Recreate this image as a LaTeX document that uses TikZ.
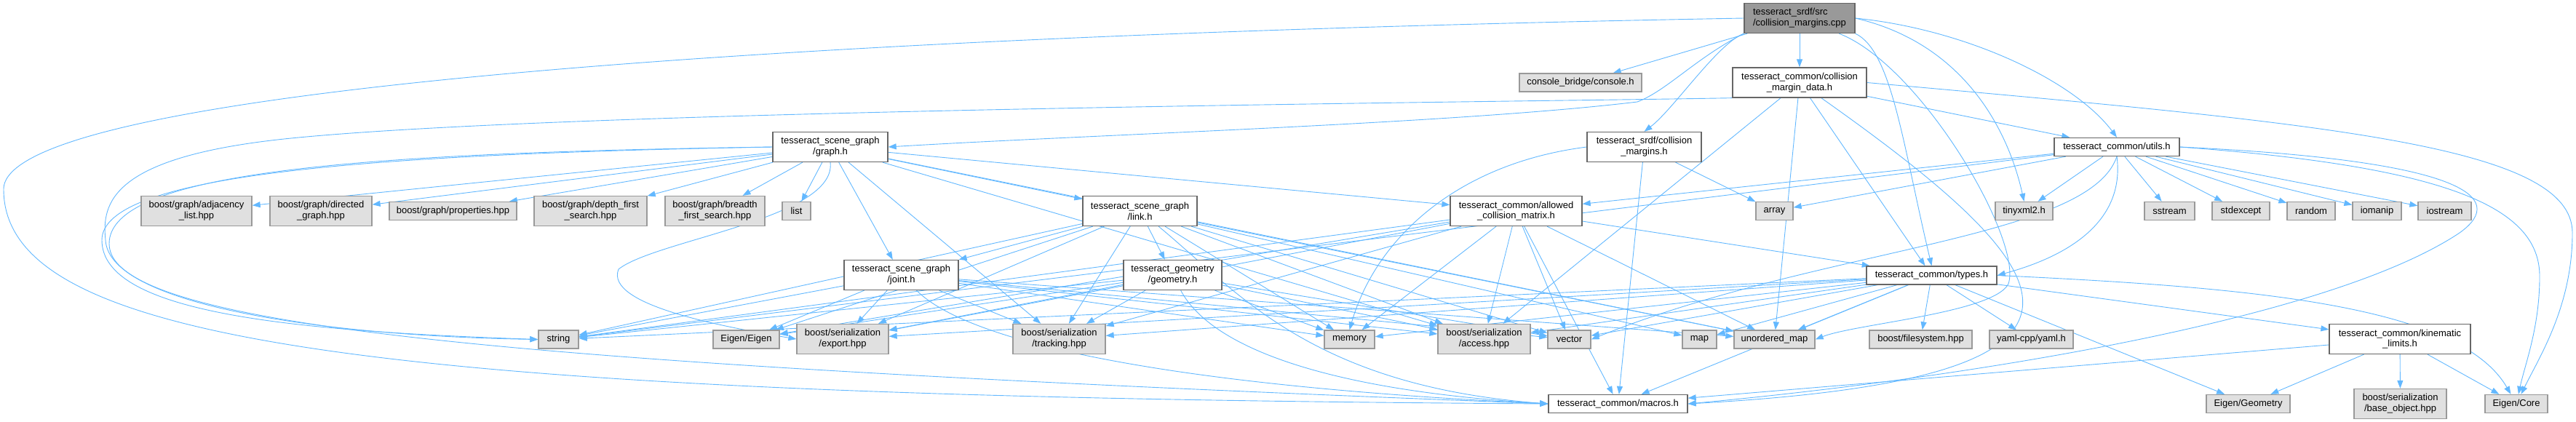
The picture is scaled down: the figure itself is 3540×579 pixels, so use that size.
\documentclass[tikz,border=0pt]{standalone}
\usepackage{fontspec}
\setmainfont{Liberation Sans}
\usetikzlibrary{arrows.meta}
\definecolor{edgeblue}{HTML}{63B8FF}
\definecolor{boxline}{HTML}{666666}
\definecolor{sysline}{HTML}{999999}
\definecolor{sysfill}{HTML}{E0E0E0}
\definecolor{rootfill}{HTML}{999999}
\pgfdeclarelayer{bg}
\pgfsetlayers{bg,main}

\begin{document}
\begin{tikzpicture}[x=1pt,y=-1pt,>={Triangle[length=11pt,width=8pt]},
  hdr/.style={draw=boxline,fill=white,line width=1.3pt,inner sep=0pt,minimum height=25pt,align=center,font=\fontsize{13}{14.8}\selectfont},
  sys/.style={hdr,draw=sysline,fill=sysfill},
  two/.style={minimum height=41pt},
  dep/.style={->,color=edgeblue,line width=0.9pt}]
  \useasboundingbox (0,0) rectangle (3540,579);
  % top rows
  \node[hdr,fill=rootfill,align=left,minimum width=152pt,two] (root) at (2473,25) {tesseract\_srdf/src\\/collision\_margins.cpp};
  \node[hdr,minimum width=184pt,two] (cmd) at (2473,113.5) {tesseract\_common/collision\\\_margin\_data.h};
  \node[sys,minimum width=168pt] (cbc) at (2172,113.5) {console\_bridge/console.h};
  \node[hdr,minimum width=158pt,two] (graphh) at (1141,202) {tesseract\_scene\_graph\\/graph.h};
  \node[hdr,minimum width=157pt,two] (srdfcm) at (2259.5,202) {tesseract\_srdf/collision\\\_margins.h};
  \node[hdr,minimum width=172pt] (utils) at (2909,202) {tesseract\_common/utils.h};
  % third row
  \node[sys,minimum width=152pt,two] (adjlist) at (270,290) {boost/graph/adjacency\\\_list.hpp};
  \node[sys,minimum width=140pt,two] (dirgraph) at (441,290) {boost/graph/directed\\\_graph.hpp};
  \node[sys,minimum width=175pt] (props) at (622.5,290) {boost/graph/properties.hpp};
  \node[sys,minimum width=155pt,two] (dfs) at (811.5,290) {boost/graph/depth\_first\\\_search.hpp};
  \node[sys,minimum width=137pt,two] (bfs) at (982.5,290) {boost/graph/breadth\\\_first\_search.hpp};
  \node[sys,minimum width=39pt] (lst) at (1094.5,290) {list};
  \node[hdr,minimum width=157pt,two] (linkh) at (1566.5,290) {tesseract\_scene\_graph\\/link.h};
  \node[hdr,minimum width=181pt,two] (acm) at (2083.5,290) {tesseract\_common/allowed\\\_collision\_matrix.h};
  \node[sys,minimum width=51pt] (array) at (2438.5,290) {array};
  \node[sys,minimum width=79pt] (tinyxml) at (2781.5,290) {tinyxml2.h};
  \node[sys,minimum width=69pt] (sstream) at (2981.5,290) {sstream};
  \node[sys,minimum width=79pt] (stdexcept) at (3079.5,290) {stdexcept};
  \node[sys,minimum width=66pt] (random) at (3176,290) {random};
  \node[sys,minimum width=67pt] (iomanip) at (3266.5,290) {iomanip};
  \node[sys,minimum width=73pt] (iostream) at (3359.5,290) {iostream};
  % fourth row
  \node[hdr,minimum width=157pt,two] (jointh) at (1238.5,378) {tesseract\_scene\_graph\\/joint.h};
  \node[hdr,minimum width=135pt,two] (geomh) at (1611.5,378) {tesseract\_geometry\\/geometry.h};
  \node[hdr,minimum width=179pt] (types) at (2654.5,378.5) {tesseract\_common/types.h};
  % fifth row
  \node[sys,minimum width=55pt] (string) at (767.5,466.5) {string};
  \node[sys,minimum width=91pt] (eigen) at (1025.5,466.5) {Eigen/Eigen};
  \node[sys,minimum width=126pt,two] (export) at (1158,466) {boost/serialization\\/export.hpp};
  \node[sys,minimum width=127pt,two] (tracking) at (1455.5,466) {boost/serialization\\/tracking.hpp};
  \node[sys,minimum width=69pt] (memory) at (1854.5,466.5) {memory};
  \node[sys,minimum width=127pt,two] (access) at (2039.5,466) {boost/serialization\\/access.hpp};
  \node[sys,minimum width=59pt] (vector) at (2156.5,466.5) {vector};
  \node[sys,minimum width=47pt] (map) at (2335.5,466.5) {map};
  \node[sys,minimum width=111pt] (umap) at (2438.5,466.5) {unordered\_map};
  \node[sys,minimum width=141pt] (fsys) at (2639.5,466.5) {boost/filesystem.hpp};
  \node[sys,minimum width=115pt] (yaml) at (2791.5,466.5) {yaml-cpp/yaml.h};
  \node[hdr,minimum width=194pt,two] (kinlim) at (3298,466) {tesseract\_common/kinematic\\\_limits.h};
  % bottom row
  \node[hdr,minimum width=191pt] (macros) at (2223.5,555) {tesseract\_common/macros.h};
  \node[sys,minimum width=115pt] (eigeo) at (3089.5,555) {Eigen/Geometry};
  \node[sys,minimum width=127pt,two] (baseobj) at (3298.5,555) {boost/serialization\\/base\_object.hpp};
  \node[sys,minimum width=86pt] (eicore) at (3458,555) {Eigen/Core};

  \begin{pgfonlayer}{bg}
  % straight includes
  \foreach \t in {cbc,cmd} \draw[dep] (root) -- (\t);
  \foreach \t in {access,umap,types,utils} \draw[dep] (cmd) -- (\t);
  \foreach \t in {array,macros} \draw[dep] (srdfcm) -- (\t);
  \foreach \t in {adjlist,dirgraph,props,dfs,bfs,lst,linkh,acm,jointh,tracking,access,umap} \draw[dep] (graphh) -- (\t);
  \foreach \t in {array,sstream,stdexcept,random,iomanip,iostream,tinyxml,acm,string} \draw[dep] (utils) -- (\t);
  \foreach \t in {memory,access,vector,macros,umap,types,string,export,tracking,eigen} \draw[dep] (acm) -- (\t);
  \foreach \t in {string,eigen,export,tracking,geomh,jointh,memory,vector,access,map,umap} \draw[dep] (linkh) -- (\t);
  \foreach \t in {string,eigen,export,tracking,memory,vector,access,umap} \draw[dep] (jointh) -- (\t);
  \foreach \t in {string,eigen,export,tracking,memory,vector,access} \draw[dep] (geomh) -- (\t);
  \foreach \t in {fsys,yaml,kinlim,eigeo,umap,map,vector,memory,string,access,export,tracking,macros} \draw[dep] (types) -- (\t);
  \foreach \t in {eigeo,baseobj,eicore,macros} \draw[dep] (kinlim) -- (\t);
  % routed includes
  \draw[dep] (root.west) .. controls (1000,50) and (5,130) .. (5,260) .. controls (5,470) and (500,545) .. (macros.west);
  \draw[dep] (root.south west) .. controls (2330,80) and (2290,125) .. (2250,140) .. controls (2000,170) and (1500,185) .. (graphh.east);
  \draw[dep] (root.south west) .. controls (2360,60) and (2300,150) .. (srdfcm.north);
  \draw[dep] (root.east) .. controls (2700,40) and (2850,110) .. (utils.north);
  \draw[dep] (root.east) .. controls (2700,60) and (2760,180) .. (tinyxml.north);
  \draw[dep] (root.south east) .. controls (2600,70) and (2615,200) .. (types.north);
  \draw[dep] (root) .. controls (2640,90) and (2780,330) .. (2760,390) .. controls (2740,430) and (2550,445) .. (umap.east);
  \draw[dep] (cmd.south west) .. controls (2100,140) and (800,150) .. (400,190) .. controls (150,215) and (140,280) .. (145,330) .. controls (150,420) and (450,462) .. (string.west);
  \draw[dep] (cmd.east) .. controls (3200,170) and (3535,200) .. (3535,320) .. controls (3535,420) and (3490,490) .. (eicore);
  \draw[dep] (cmd) .. controls (2850,380) and (2950,520) .. (macros.east);
  \draw[dep] (graphh.west) .. controls (500,212) and (140,240) .. (140,330) .. controls (140,430) and (400,455) .. (string.west);
  \draw[dep] (graphh.west) .. controls (500,210) and (150,235) .. (150,335) .. controls (150,450) and (700,500) .. (macros.west);
  \draw[dep] (graphh.south) .. controls (1150,300) and (900,330) .. (850,370) .. controls (830,420) and (1000,450) .. (export.west);
  \draw[dep] (srdfcm.west) .. controls (2000,225) and (1890,330) .. (memory.north);
  \draw[dep] (utils.east) .. controls (3380,230) and (3490,290) .. (3490,380) .. controls (3490,450) and (3470,500) .. (eicore);
  \draw[dep] (utils.east) .. controls (3380,220) and (3450,270) .. (3380,320) .. controls (3200,440) and (2700,520) .. (macros.east);
  \draw[dep] (utils.south) .. controls (2920,300) and (2850,350) .. (types.east);
  \draw[dep] (utils.south) .. controls (2870,330) and (2500,340) .. (vector.east);
  \draw[dep] (types.east) .. controls (3100,395) and (3380,420) .. (eicore);
  \draw[dep] (linkh) .. controls (1700,400) and (1800,530) .. (macros.west);
  \draw[dep] (geomh) .. controls (1660,470) and (1800,535) .. (macros.west);
  \draw[dep] (jointh) .. controls (1330,470) and (1600,530) .. (macros.west);
  \end{pgfonlayer}
\end{tikzpicture}
\end{document}
